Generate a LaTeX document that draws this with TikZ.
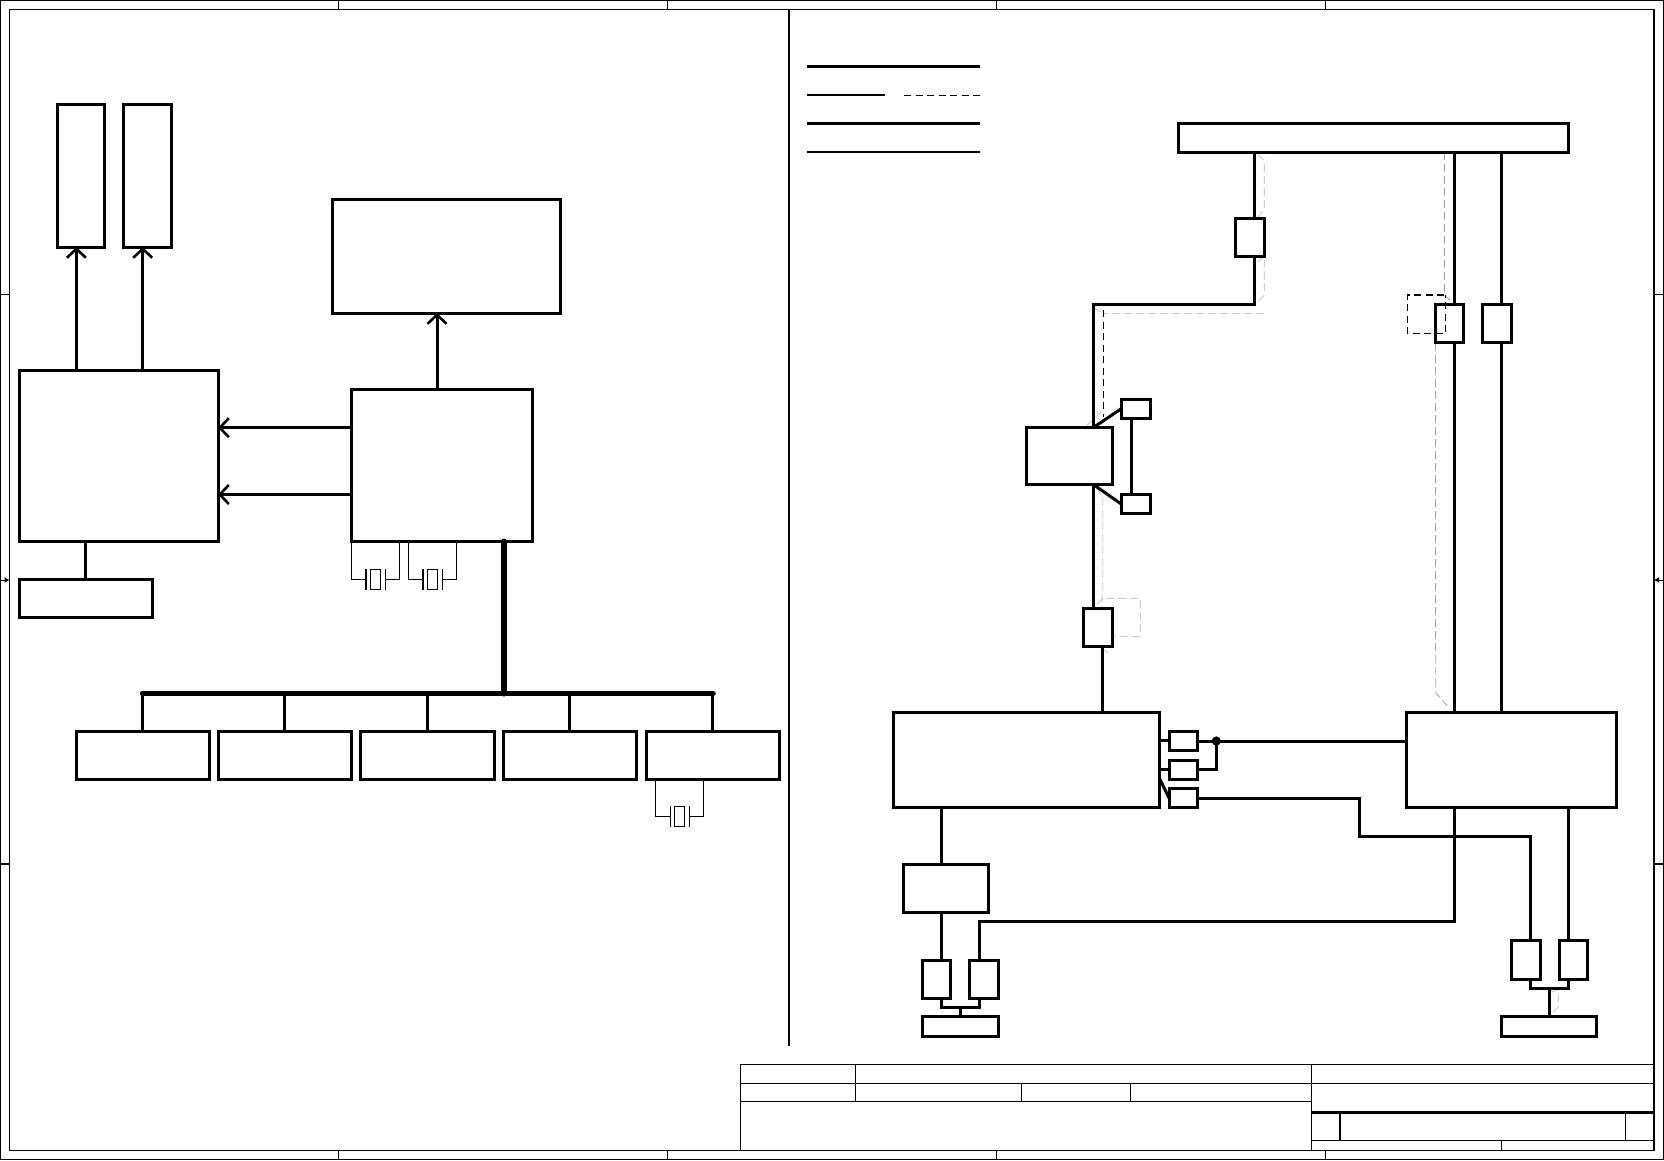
\documentclass[tikz,border=0pt]{standalone}
\usetikzlibrary{arrows.meta,calc}
\tikzset{
  x=1pt,y=-1pt,
  blk/.style={draw=black,line width=3pt,fill=white,inner sep=0pt,outer sep=0pt},
  wire/.style={line width=3pt,line join=miter},
  bus/.style={line width=5.6pt,line cap=round},
  arrowwire/.style={line width=3pt,-{Straight Barb[length=9pt,width=19pt,line width=2.6pt]}},
  frameline/.style={line width=1.3pt},
  thin wire/.style={line width=1.1pt},
  xbody/.style={draw=black,line width=1.1pt,inner sep=0pt,outer sep=0pt,minimum width=10.4pt,minimum height=19.4pt},
  xplate/.style={line width=1.1pt},
  legend/.style={line width=3pt},
  legendthin/.style={line width=2pt},
  blackdash/.style={line width=1.1pt,dash pattern=on 7pt off 4.5pt},
  graydash/.style={line width=.9pt,draw=black!20,dash pattern=on 8pt off 4pt},
  graymid/.style={line width=.9pt,draw=black!35,dash pattern=on 8pt off 4pt},
}
\newcommand{\bx}[5]{%
  \pgfmathsetmacro{\bxw}{#4-#2}\pgfmathsetmacro{\bxh}{#5-#3}%
  \pgfmathsetmacro{\bxx}{(#4+#2)/2}\pgfmathsetmacro{\bxy}{(#5+#3)/2}%
  \node[blk,minimum width=\bxw pt,minimum height=\bxh pt] (#1) at (\bxx,\bxy) {};}
% crystal: name, centre x, level y, top y (wire start)
\newcommand{\xtal}[4]{%
  \node[xbody] (#1) at (#2,#3) {};
  \coordinate (#1L) at ($(#1.west)+(-4.3,0)$);
  \coordinate (#1R) at ($(#1.east)+(4.6,0)$);
  \draw[xplate] ($(#1L)+(0,-10.5)$) -- ($(#1L)+(0,10.5)$);
  \draw[xplate] ($(#1R)+(0,-10.5)$) -- ($(#1R)+(0,10.5)$);
  \draw[thin wire] (#4 -| #1L) ++(-14.3,0) |- (#1L);
  \draw[thin wire] (#4 -| #1R) ++(14.3,0) |- (#1R);}
\begin{document}
\begin{tikzpicture}
\useasboundingbox (0,0) rectangle (1664,1160);
\fill[white] (0,0) rectangle (1664,1160);
% sheet frame
\draw[frameline] (0.6,0.6) rectangle (1663.4,1159.4);
\draw[frameline] (9.5,9.5) rectangle (1654,1150.4);
\foreach \tx in {338.5,667.5,996.5,1325.5}{
  \draw[frameline] (\tx,0.6) -- (\tx,9.5);
  \draw[frameline] (\tx,1150.4) -- (\tx,1159.4);}
\foreach \ty in {294.3,864}{
  \draw[frameline] (0.6,\ty) -- (9.5,\ty);
  \draw[frameline] (1654,\ty) -- (1663.4,\ty);}
\draw[line width=1pt,-{Latex[length=5pt,width=6pt]}] (0.6,580) -- (9.5,580);
\draw[line width=1pt,-{Latex[length=5pt,width=6pt]}] (1663.4,580) -- (1654,580);
% divider
\draw[line width=2pt] (789,9.5) -- (789,1046);
% legend
\draw[legend] (807,66.3) -- (980,66.3);
\draw[legendthin] (807,95) -- (885,95);
\draw[blackdash,line width=1pt] (904,95.5) -- (980,95.5);
\draw[legend] (807,123.3) -- (980,123.3);
\draw[legendthin] (807,152) -- (980,152);
% title block
\draw[frameline] (740.5,1064.3) -- (1654,1064.3);
\draw[frameline] (740.5,1083.3) -- (1654,1083.3);
\draw[frameline] (740.5,1101.3) -- (1311.8,1101.3);
\draw[line width=2.6pt] (1311.8,1112.2) -- (1654,1112.2);
\draw[frameline] (1311.8,1140.4) -- (1654,1140.4);
\draw[frameline] (740.5,1064.3) -- (740.5,1150.4);
\draw[frameline] (855.5,1064.3) -- (855.5,1101.3);
\draw[frameline] (1021.6,1083.3) -- (1021.6,1101.3);
\draw[frameline] (1130.6,1083.3) -- (1130.6,1101.3);
\draw[frameline] (1311.8,1064.3) -- (1311.8,1150.4);
\draw[frameline] (1340,1112.2) -- (1340,1140.4);
\draw[frameline] (1625.5,1112.2) -- (1625.5,1140.4);
\draw[frameline] (1501.5,1140.4) -- (1501.5,1150.4);

% ---- left half: boxes
\bx{A}{57.5}{104}{104.5}{247}
\bx{B}{123}{104}{171}{247}
\bx{C}{19}{370}{218}{541}
\bx{D}{19}{579}{152.3}{617}
\bx{E}{332}{199.5}{560.5}{313}
\bx{F}{351.7}{389.5}{532}{541.5}
\bx{P}{76.4}{731}{209.6}{779.5}
\bx{Q}{218.6}{731}{351.3}{779.5}
\bx{R}{360.8}{731}{494.5}{779.5}
\bx{S}{503}{731}{636.7}{779.5}
\bx{T}{646.3}{731}{779.5}{779.5}
% ---- left half: connectors
\draw[arrowwire] (C.north -| 76.4,0) -- (A.south -| 76.4,0);
\draw[arrowwire] (C.north -| 142.7,0) -- (B.south -| 142.7,0);
\draw[arrowwire] (F.north -| 437,0) -- (E.south -| 437,0);
\draw[arrowwire] (F.west |- 0,427.7) -- (C.east |- 0,427.7);
\draw[arrowwire] (F.west |- 0,494.5) -- (C.east |- 0,494.5);
\draw[wire] (C.south -| 85.5,0) -- (D.north -| 85.5,0);
\coordinate (busL) at (142.7,693.5);
\coordinate (busR) at (713,693.5);
\coordinate (busT) at (503.7,693.5);
\draw[bus] (busL) -- (busR);
\draw[line width=6pt,line cap=round] (F.south -| busT) -- (busT);
\draw[wire] (busL) -- (P.north -| busL);
\draw[wire] (Q.north |- busL) -- (Q.north);
\draw[wire] (R.north |- busL) -- (R.north);
\draw[wire] (S.north |- busL) -- (S.north);
\draw[wire] (T.north |- busL) -- (T.north);
\xtal{X}{375.5}{579.5}{F.south}
\xtal{Y}{432.5}{579.5}{F.south}
\xtal{Z}{679.7}{816.5}{T.south}

% ---- right half: gray and dashed traces beneath
\draw[graydash] (1258,155) -- (1264.3,160) -- (1264.3,210) -- (1258,217);
\draw[graydash] (1258,262) -- (1264.3,256) -- (1264.3,295) -- (1258,302);
\draw[graydash] (1264.3,313.3) -- (1103,313.3);
\draw[graydash] (1094,308) -- (1103.3,313.3);
\draw[graydash] (1087,425) -- (1103.3,410);
\draw[graydash] (1096,488) -- (1102.7,497) -- (1102.7,636.3) -- (1140.3,636.3) -- (1140.3,598.3) -- (1102.7,598.3) -- (1096,606);
\draw[graydash] (1102.7,649) -- (1108,653);
\draw[graymid] (1444.3,152) -- (1444.3,295) -- (1450,300);
\draw[graymid] (1445,340) -- (1435.5,335);
\draw[graymid] (1435.5,343) -- (1435.7,693) -- (1447.3,705.7);
\draw[graydash] (1551,992) -- (1558.3,990) -- (1558.3,1007) -- (1551,1014);

% ---- right half: boxes
\bx{Top}{1178}{123.3}{1568.5}{152}
\bx{Fa}{1235}{218.3}{1264.5}{256.7}
\bx{G}{1026}{427.3}{1112.7}{484.7}
\bx{Ga}{1121}{399}{1150.8}{418.7}
\bx{Gb}{1121}{494}{1150.8}{513.7}
\bx{Fb}{1083.3}{608.3}{1112.7}{646.7}
\bx{Fc}{1435}{304}{1463.5}{342.3}
\bx{Fd}{1482}{304}{1511.5}{342.3}
\bx{H}{893.5}{712}{1159.3}{807.5}
\bx{K}{1406.5}{712}{1616}{807.5}
\bx{Ha}{1169}{731}{1197.8}{750}
\bx{Hb}{1169}{760}{1197.8}{779}
\bx{Hc}{1169}{788.3}{1197.8}{807.7}
\bx{M}{903}{864}{988.5}{912}
\bx{Fe}{922.2}{960}{950.7}{998.3}
\bx{Ff}{969}{960}{998.5}{998.3}
\bx{Con}{922.2}{1016.7}{998.8}{1036}
\bx{Fg}{1511.2}{940.7}{1540}{979}
\bx{Fh}{1559}{940.7}{1587.5}{979}
\bx{ConB}{1501.2}{1016.7}{1596.8}{1036}
% black dashed
\draw[blackdash] (1103.3,310) -- (1103.3,417);
\draw[blackdash] (1444.3,295) -- (1407.3,295) -- (1407.3,333.3) -- (1445.7,333.3) -- (1445.7,295);
% ---- right half: connectors
\coordinate (c1) at (1254.3,304);
\coordinate (c2) at (1093.7,304);
\draw[wire] (Top.south -| c1) -- (Fa.north -| c1);
\draw[wire] (Fa.south -| c1) -- (c1) -- (c2) -- (G.north -| c2);
\draw[wire] (G.south -| c2) -- (Fb.north -| c2);
\draw[wire] (Fb.south -| 1102.3,0) -- (H.north -| 1102.3,0);
\draw[wire] (G.north -| c2) -- (Ga.west);
\draw[wire] (G.south -| c2) -- (Gb.west);
\draw[wire] (Ga.south -| 1131.3,0) -- (Gb.north -| 1131.3,0);
\draw[wire] (Top.south -| 1454.7,0) -- (Fc.north -| 1454.7,0);
\draw[wire] (Fc.south -| 1454.7,0) -- (K.north -| 1454.7,0);
\draw[wire] (Top.south -| 1501.3,0) -- (Fd.north -| 1501.3,0);
\draw[wire] (Fd.south -| 1501.3,0) -- (K.north -| 1501.3,0);
\draw[wire] (H.east |- Ha.west) -- (Ha.west);
\draw[wire] (H.east |- Hb.west) -- (Hb.west);
\draw[wire] (1159.3,778) -- (Hc.west);
\coordinate (dot) at (1216.3,741);
\draw[wire] (Ha.east |- dot) -- (K.west |- dot);
\draw[wire] (Hb.east) -| (dot);
\fill (dot) circle (4.6);
\draw[wire] (Hc.east) -| (1359.4,836.2) -| (Fg.north -| 1530.7,0);
\draw[wire] (K.south -| 1454,0) |- (979.5,921) -- (Ff.north -| 979.5,0);
\draw[wire] (K.south -| 1568.5,0) -- (Fh.north -| 1568.5,0);
\draw[wire] (H.south -| 941.5,0) -- (M.north -| 941.5,0);
\draw[wire] (M.south -| 941.5,0) -- (Fe.north -| 941.5,0);
\draw[wire] (Fe.south -| 941.5,0) |- (979,1007.7) -- (Ff.south -| 979,0);
\draw[wire] (960,1007.7) -- (Con.north -| 960,0);
\draw[wire] (Fg.south -| 1530.7,0) |- (1568.7,988.7) -- (Fh.south -| 1568.7,0);
\draw[wire] (1549.3,988.7) -- (ConB.north -| 1549.3,0);
\end{tikzpicture}
\end{document}
